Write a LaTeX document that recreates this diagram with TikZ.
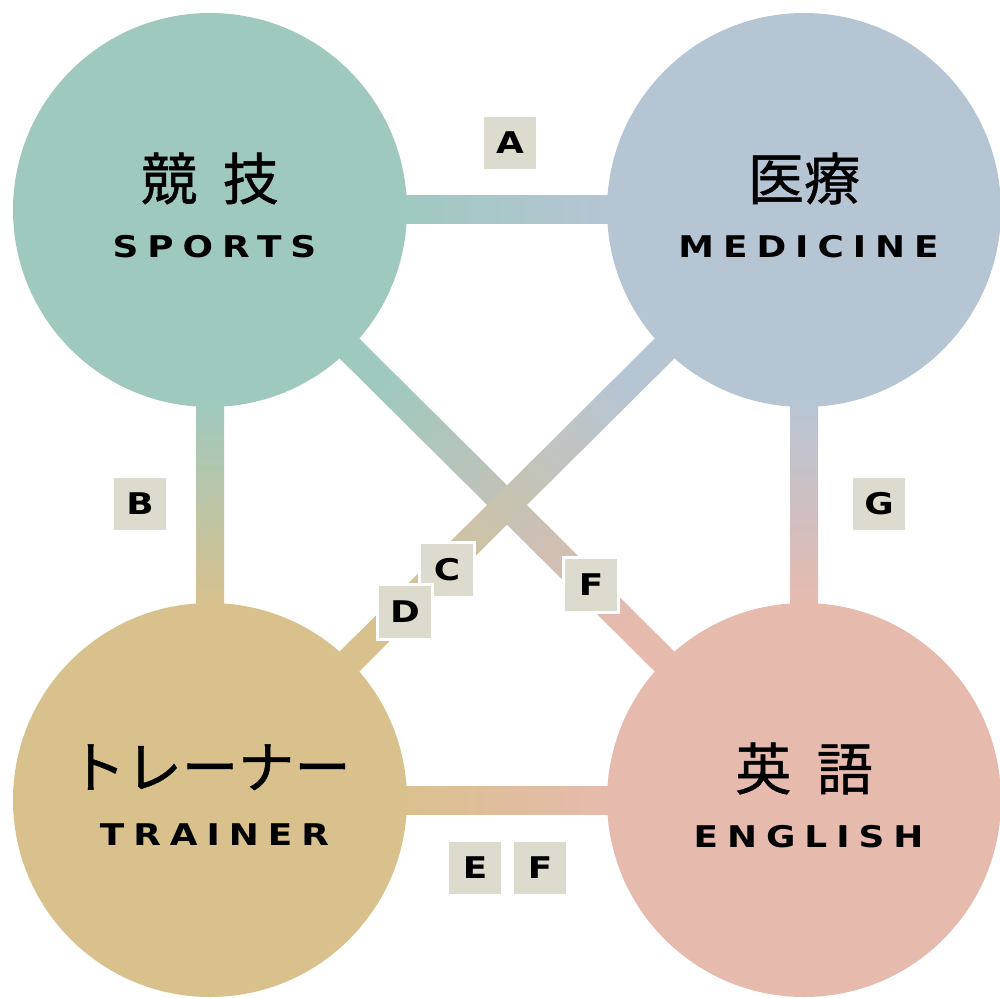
\documentclass[tikz,border=0pt]{standalone}
\usepackage{fontspec}
\usetikzlibrary{positioning, calc, backgrounds}
\newfontfamily\jpfont{Noto Sans CJK JP}[FakeBold=0.8]
\newfontfamily\enfont{DejaVu Sans}[LetterSpace=30, FakeStretch=1.2]
\newfontfamily\tagfont{DejaVu Sans}[FakeStretch=1.2]

\definecolor{sportscol}{HTML}{9FC9BF}
\definecolor{medicinecol}{HTML}{B6C5D4}
\definecolor{trainercol}{HTML}{D9C18D}
\definecolor{englishcol}{HTML}{E7BAAE}
\definecolor{tagcol}{HTML}{DCDBCD}

\newcommand\jp[1]{{\jpfont\fontsize{16pt}{16pt}\selectfont #1}}
\newcommand\en[1]{{\enfont\bfseries #1\kern-0.3em}\rule[-0.1cm]{0pt}{0pt}}

% thick shaded bar from circle #1 to circle #2
\newcommand\linkbar[3]{%
    \coordinate (p) at ($(#1)!1.9cm!(#2)$);
    \coordinate (q) at ($(#2)!1.9cm!(#1)$);
    \shade[#3] ($(p)!0.14cm!90:(q)$) -- ($(q)!0.14cm!-90:(p)$)
        -- ($(q)!0.14cm!90:(p)$) -- ($(p)!0.14cm!-90:(q)$) -- cycle;
}

\begin{document}
\begin{tikzpicture}[
    topic/.style={circle, minimum size=3.94cm, inner sep=0pt, outer sep=0pt,
        align=center, font=\fontsize{8.5pt}{16.4pt}\selectfont},
    tag/.style={rectangle, fill=tagcol, draw=white, line width=1pt,
        minimum size=0.55cm, inner sep=0pt,
        font=\tagfont\bfseries\fontsize{8.5pt}{10pt}\selectfont}
]
    \useasboundingbox (0,0) rectangle (10,-9.97);

    \node [topic, fill=sportscol] (sports) at (2.10,-2.10)
        {\jp{競\hspace{0.45em}技}\\\en{SPORTS}};
    \node [topic, fill=medicinecol, right=2cm of sports] (medicine)
        {\jp{医療}\\\en{MEDICINE}};
    \node [topic, fill=trainercol, below=1.96cm of sports] (trainer)
        {\jp{トレーナー}\\\en{TRAINER}};
    \node [topic, fill=englishcol, below=1.96cm of medicine] (english)
        {\jp{英\hspace{0.45em}語}\\\en{ENGLISH}};

    \begin{scope}[on background layer]
        \linkbar{sports}{medicine}{left color=sportscol, right color=medicinecol}
        \linkbar{sports}{trainer}{top color=sportscol, bottom color=trainercol}
        \linkbar{medicine}{english}{top color=medicinecol, bottom color=englishcol}
        \linkbar{trainer}{english}{left color=trainercol, right color=englishcol}
        \linkbar{sports}{english}{top color=sportscol, bottom color=englishcol, shading angle=45}
        \linkbar{medicine}{trainer}{top color=medicinecol, bottom color=trainercol, shading angle=-45}
    \end{scope}

    \node [tag] (tagA)  at (5.10,-1.43) {A};
    \node [tag] (tagB)  at (1.40,-5.04) {B};
    \node [tag] (tagG)  at (8.79,-5.04) {G};
    \node [tag] (tagC)  at (4.47,-5.70) {C};
    \node [tag] (tagD)  at (4.05,-6.12) {D};
    \node [tag] (tagF)  at (5.91,-5.85) {F};
    \node [tag] (tagE)  at (4.75,-8.68) {E};
    \node [tag] (tagF2) at (5.40,-8.68) {F};
\end{tikzpicture}
\end{document}
